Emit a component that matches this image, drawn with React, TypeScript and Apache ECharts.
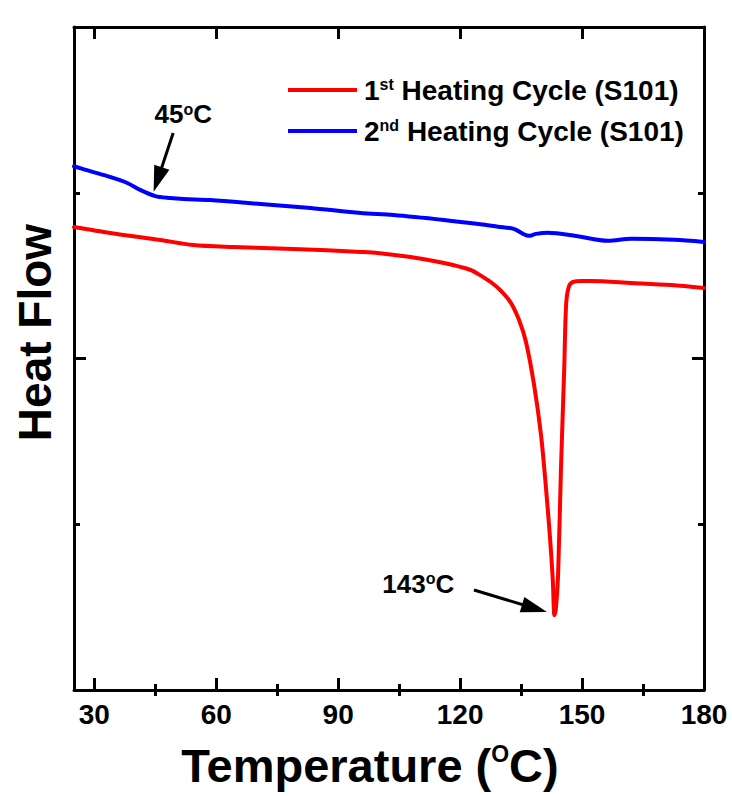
import React, { useEffect, useRef } from "react";
import * as echarts from "echarts";

// ---- data ----
const seriesNames = ["1st Heating Cycle (S101)", "2nd Heating Cycle (S101)"];

const redT = [25, 33.9, 46.2, 54.3, 64.2, 79.0, 95.5, 99.7, 107.8, 116.0, 122.6, 125.1, 127.6, 130.0, 132.5, 134.5, 136.2, 138.2, 139.9, 141.1, 142.1, 142.8, 143.2, 143.6, 144.1, 144.8, 145.6, 146.1, 146.8, 147.8, 149.8, 152.2, 162.1, 171.9, 180];
const redV = [2.793, 2.757, 2.715, 2.685, 2.673, 2.661, 2.643, 2.637, 2.612, 2.576, 2.534, 2.5, 2.46, 2.41, 2.335, 2.232, 2.1, 1.84, 1.538, 1.225, 0.923, 0.664, 0.452, 0.5, 0.694, 1.327, 1.931, 2.335, 2.437, 2.462, 2.468, 2.468, 2.456, 2.443, 2.425];

const blueT = [25, 29, 33.9, 38.1, 41.3, 45.0, 48.7, 52, 58.5, 70.9, 83.2, 95.5, 103.6, 116.0, 125, 129.3, 133.2, 135.5, 136.9, 138.7, 141.6, 148.5, 156.4, 162.1, 172.7, 180];
const blueV = [3.16, 3.13, 3.095, 3.059, 3.017, 2.98, 2.968, 2.962, 2.956, 2.932, 2.908, 2.878, 2.866, 2.836, 2.81, 2.795, 2.782, 2.752, 2.74, 2.752, 2.758, 2.739, 2.71, 2.722, 2.716, 2.703];

const xMajorTicks = [30, 60, 90, 120, 150, 180];
const xMinorTicks = [45, 75, 105, 135, 165];

// annotations: arrow tail -> arrow head, label position
const arrow45 = [[49.4, 3.361], [45.6, 3.08]];
const label45 = { text: "45{s|o}C", at: [51.9, 3.475] };
const arrow143 = [[123.4, 0.603], [138.3, 0.493]];
const label143 = { text: "143{s|o}C", at: [109.7, 0.64] };

const FONT = "Liberation Sans";

function zip(a: number[], b: number[]) {
  return a.map((v, i) => [v, b[i]]);
}

export default function App() {
  const ref = useRef<HTMLDivElement>(null);
  useEffect(() => {
    document.body.style.margin = "0";
    const chart = echarts.init(ref.current!, null, { renderer: "svg" });
    const black = "#000";
    const axisLine = { show: true, onZero: false, lineStyle: { color: black, width: 3 } };
    const tickStyle = { color: black, width: 3 };
    const xBase = { type: "value", min: 25, max: 180, splitLine: { show: false } };
    const yBase = {
      type: "value",
      min: 0,
      max: 4,
      interval: 2,
      axisLine,
      axisTick: { show: true, inside: true, length: 12, lineStyle: tickStyle },
      minorTick: { show: true, splitNumber: 2, length: 6, lineStyle: tickStyle },
      axisLabel: { show: false },
      splitLine: { show: false },
      minorSplitLine: { show: false },
    };
    const arrowLine = (pts: number[][]) => ({
      silent: true,
      symbol: ["none", "triangle"],
      symbolSize: [16, 26],
      lineStyle: { color: black, width: 3, type: "solid" },
      itemStyle: { color: black },
      label: { show: false },
      emphasis: { disabled: true },
      data: [[{ coord: pts[0] }, { coord: pts[1] }]],
    });
    const textPoint = (lab: { text: string; at: number[] }) => ({
      silent: true,
      symbol: "circle",
      symbolSize: 1,
      itemStyle: { color: "rgba(0,0,0,0)" },
      data: [
        {
          coord: lab.at,
          label: {
            show: true,
            position: "inside",
            formatter: lab.text,
            color: black,
            fontSize: 26,
            fontWeight: "bold",
            fontFamily: FONT,
            rich: { s: { fontSize: 16, fontWeight: "bold", fontFamily: FONT, color: black, verticalAlign: "top" } },
          },
        },
      ],
    });
    chart.setOption({
      animation: false,
      backgroundColor: "#ffffff",
      textStyle: { fontFamily: FONT },
      grid: { left: 74, right: 28, top: 27, bottom: 106, outerBoundsMode: "none" },
      legend: {
        orient: "vertical",
        left: 288,
        top: 76,
        padding: 0,
        icon: "rect",
        itemWidth: 69,
        itemHeight: 4,
        itemGap: 13,
        data: seriesNames,
        formatter: (name: string) => name.replace(/^(\d)(st|nd)/, "$1{sup|$2}"),
        textStyle: {
          fontSize: 28,
          fontWeight: "bold",
          color: black,
          fontFamily: FONT,
          padding: [0, 0, 0, 2],
          rich: { sup: { fontSize: 16, fontWeight: "bold", color: black, fontFamily: FONT, verticalAlign: "top" } },
        },
      },
      xAxis: [
        {
          ...xBase,
          position: "bottom",
          axisLine,
          axisTick: { show: true, inside: true, length: 12, lineStyle: tickStyle, customValues: xMajorTicks },
          axisLabel: { show: true, customValues: xMajorTicks, fontSize: 28, fontWeight: "bold", color: black, fontFamily: FONT, margin: 10 },
          name: "Temperature ({sup|O}C)",
          nameLocation: "middle",
          nameGap: 52,
          nameTextStyle: {
            fontSize: 47,
            fontWeight: "bold",
            color: black,
            fontFamily: FONT,
            padding: [0, 38, 0, 0],
            rich: { sup: { fontSize: 23, fontWeight: "bold", color: black, fontFamily: FONT, verticalAlign: "top" } },
          },
        },
        {
          ...xBase,
          position: "bottom",
          axisLine: { show: false },
          axisTick: { show: true, inside: true, length: 6, lineStyle: tickStyle, customValues: xMinorTicks },
          axisLabel: { show: false },
        },
        {
          ...xBase,
          position: "top",
          axisLine,
          axisTick: { show: true, inside: true, length: 12, lineStyle: tickStyle, customValues: xMajorTicks },
          axisLabel: { show: false },
        },
        {
          ...xBase,
          position: "top",
          axisLine: { show: false },
          axisTick: { show: true, inside: true, length: 6, lineStyle: tickStyle, customValues: xMinorTicks },
          axisLabel: { show: false },
        },
      ],
      yAxis: [
        {
          ...yBase,
          position: "left",
          name: "Heat Flow",
          nameLocation: "middle",
          nameRotate: 90,
          nameGap: 16,
          nameTextStyle: { fontSize: 46, fontWeight: "bold", color: black, fontFamily: FONT, padding: [0, 0, 0, 52] },
        },
        { ...yBase, position: "right" },
      ],
      series: [
        {
          name: seriesNames[0],
          type: "line",
          xAxisIndex: 0,
          yAxisIndex: 0,
          data: zip(redT, redV),
          symbol: "none",
          smooth: 0.3,
          lineStyle: { color: "#ff0000", width: 4, join: "round", cap: "round" },
          itemStyle: { color: "#ff0000" },
          markLine: arrowLine(arrow143),
          markPoint: textPoint(label143),
        },
        {
          name: seriesNames[1],
          type: "line",
          xAxisIndex: 0,
          yAxisIndex: 0,
          data: zip(blueT, blueV),
          symbol: "none",
          smooth: 0.3,
          lineStyle: { color: "#0000ff", width: 4, join: "round", cap: "round" },
          itemStyle: { color: "#0000ff" },
          markLine: arrowLine(arrow45),
          markPoint: textPoint(label45),
        },
      ],
    });
    return () => chart.dispose();
  }, []);
  return <div ref={ref} style={{ position: "fixed", left: 0, top: 0, width: 732, height: 796 }} />;
}
